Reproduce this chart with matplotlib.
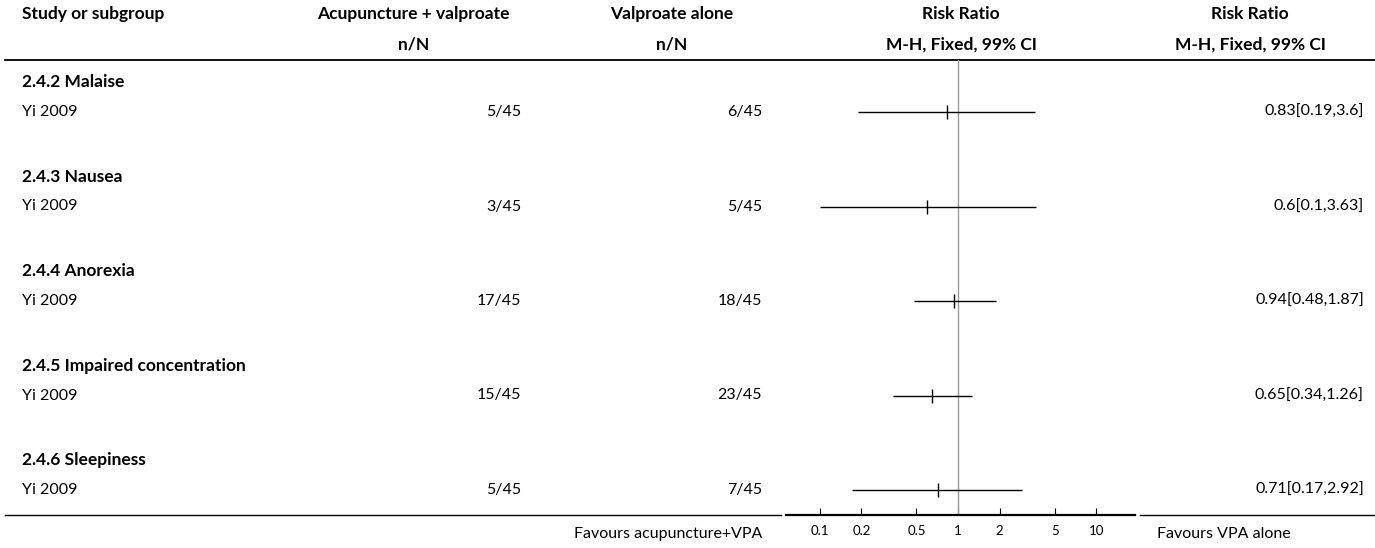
import numpy as np
import matplotlib.pyplot as plt
from matplotlib.ticker import FixedLocator, NullLocator

plt.rcParams['font.family'] = ['Lato', 'DejaVu Sans']

groups = ["2.4.2 Malaise", "2.4.3 Nausea", "2.4.4 Anorexia",
          "2.4.5 Impaired concentration", "2.4.6 Sleepiness"]
study = ["Yi 2009"] * 5
treat = ["5/45", "3/45", "17/45", "15/45", "5/45"]
ctrl = ["6/45", "5/45", "18/45", "23/45", "7/45"]
rr = [0.83, 0.6, 0.94, 0.65, 0.71]
lo = [0.19, 0.1, 0.48, 0.34, 0.17]
hi = [3.6, 3.63, 1.87, 1.26, 2.92]
ticks = [0.1, 0.2, 0.5, 1, 2, 5, 10]
tick_labels = ["0.1", "0.2", "0.5", "1", "2", "5", "10"]

W, H = 1375, 548
fig = plt.figure(figsize=(W / 100, H / 100), dpi=100)
ax = fig.add_axes([0, 0, 1, 1])
ax.set_xlim(0, W)
ax.set_ylim(H, 0)
ax.axis("off")

bold = dict(fontsize=12.5, fontweight="bold", va="center")
norm = dict(fontsize=11.5, va="center")
L = 22

# header
ax.text(L, 14, "Study or subgroup", ha="left", **bold)
ax.text(413, 14, "Acupuncture + valproate", ha="center", **bold)
ax.text(414, 45, "n/N", ha="center", **bold)
ax.text(672, 14, "Valproate alone", ha="center", **bold)
ax.text(672, 45, "n/N", ha="center", **bold)
ax.text(961, 14, "Risk Ratio", ha="center", **bold)
ax.text(961, 45, "M-H, Fixed, 99% CI", ha="center", **bold)
ax.text(1250, 14, "Risk Ratio", ha="center", **bold)
ax.text(1250, 45, "M-H, Fixed, 99% CI", ha="center", **bold)

ax.plot([5, W], [60, 60], color="black", lw=1.3)
y_axis = 515
ax.plot([5, 781], [y_axis, y_axis], color="black", lw=1.0)
ax.plot([1140, W], [y_axis, y_axis], color="black", lw=1.0)

row_step = 94.5
group_y = [82 + i * row_step for i in range(len(groups))]
study_y = [g + 30 for g in group_y]

for i in range(len(groups)):
    ax.text(L, group_y[i], groups[i], ha="left", **bold)
    ax.text(L, study_y[i], study[i], ha="left", **norm)
    ax.text(521, study_y[i], treat[i], ha="right", **norm)
    ax.text(762, study_y[i], ctrl[i], ha="right", **norm)
    ax.text(1364, study_y[i], f"{rr[i]:g}[{lo[i]:g},{hi[i]:g}]", ha="right", **norm)

ax.text(762, 534, "Favours acupuncture+VPA", ha="right", **norm)
ax.text(1157, 534, "Favours VPA alone", ha="left", **norm)

# forest panel
x0, x1 = 786, 1135
fax = fig.add_axes([x0 / W, 1 - y_axis / H, (x1 - x0) / W, (y_axis - 60) / H])
fax.set_xscale("log")
fax.set_xlim(0.057, 19)
fax.set_ylim(y_axis, 60)
fax.patch.set_alpha(0)
for s in ["top", "left", "right"]:
    fax.spines[s].set_visible(False)
fax.spines["bottom"].set_linewidth(1.6)
fax.xaxis.set_major_locator(FixedLocator(ticks))
fax.xaxis.set_minor_locator(NullLocator())
fax.set_xticklabels(tick_labels)
fax.tick_params(axis="x", direction="in", length=5, width=0.8, labelsize=9.5, pad=7)
fax.set_yticks([])

fax.axvline(1, color="#999999", lw=1)
fax.hlines(study_y, lo, hi, color="black", lw=1)
fax.plot(rr, study_y, linestyle="none", marker="|", color="black", markersize=10, mew=1)

fig.savefig("out.png", dpi=100)
